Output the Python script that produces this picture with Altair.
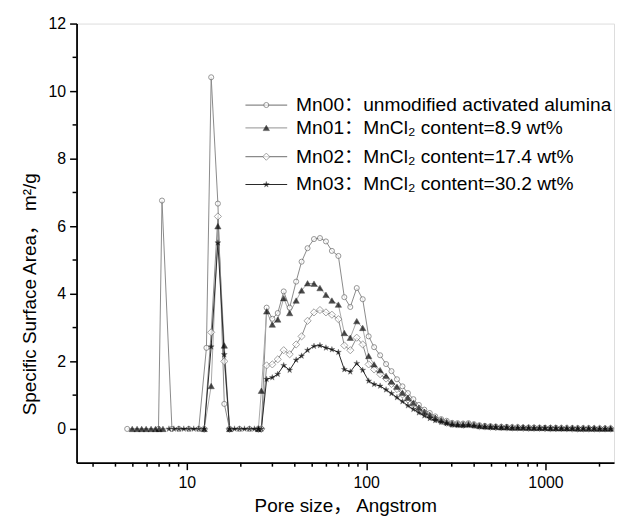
import altair as alt
import pandas as pd

names = ["Mn00", "Mn01", "Mn02", "Mn03"]
labels = [
    "Mn00：unmodified activated alumina",
    "Mn01：MnCl₂ content=8.9 wt%",
    "Mn02：MnCl₂ content=17.4 wt%",
    "Mn03：MnCl₂ content=30.2 wt%",
]

# left (micropore) region, per series
mn00_left_x = [4.65, 6.95, 7.27, 8.26, 9.03, 10.26, 11.65, 12.86, 13.67, 14.90, 16.18, 17.31, 19.66, 22.34, 25.06]
mn00_left_y = [0, 0, 6.76, 0, 0, 0, 0, 2.40, 10.41, 6.67, 0.74, 0, 0, 0, 0]

mn01_left_x = [4.96, 5.28, 5.60, 5.93, 6.32, 6.69, 7.00, 7.36, 12.50, 13.67, 14.90, 16.18, 17.31, 25.06]
mn01_left_y = [0, 0, 0, 0, 0, 0, 0, 0, 0, 1.27, 6.00, 2.47, 0, 0]

mn02_left_x = [12.50, 13.67, 14.90, 16.18, 17.31, 25.06]
mn02_left_y = [0, 2.86, 6.29, 2.00, 0, 0]

mn03_left_x = [7.95, 8.47, 9.03, 9.62, 10.26, 10.93, 11.65, 12.50, 13.67, 14.90, 16.18,
               17.31, 18.45, 19.66, 20.96, 22.34, 23.81, 25.06]
mn03_left_y = [0, 0, 0, 0, 0, 0, 0, 0, 2.43, 5.51, 2.20, 0, 0, 0, 0, 0, 0, 0]

# mesopore region, shared pore sizes
hump_x = [26.03, 27.86, 29.96, 32.14, 34.69, 37.44, 40.69, 43.64, 47.11, 51.18,
          55.25, 59.66, 64.41, 69.97, 75.54, 81.55, 88.60, 95.64, 103.25, 110.73,
          119.6, 129.1, 138.4, 148.5, 159.3, 170.9, 183.3, 196.7, 211.0, 226.3,
          242.7, 262.0, 281.1, 301.5, 323.5, 347, 372, 399, 428, 459,
          493, 528, 567, 608, 652, 700, 750, 805, 863, 926,
          993, 1065, 1143, 1226, 1315, 1411, 1513, 1623, 1741, 1868,
          2004, 2150, 2306]
mn00_hump = [0, 3.59, 3.26, 3.43, 4.07, 3.59, 4.36, 4.95, 5.35, 5.62,
             5.65, 5.55, 5.27, 5.12, 3.90, 3.61, 4.17, 3.84, 2.74, 2.42,
             2.18, 1.92, 1.71, 1.47, 1.26, 1.06, 0.88, 0.71, 0.57, 0.47,
             0.37, 0.29, 0.24, 0.18, 0.17, 0.16, 0.17, 0.14, 0.11, 0.09,
             0.08, 0.07, 0.06, 0.06, 0.05, 0.05, 0.04, 0.04, 0.04, 0.03,
             0.03, 0.03, 0.03, 0.02, 0.02, 0.02, 0.02, 0.02, 0.02, 0.01,
             0.01, 0.01, 0.01]
mn01_hump = [1.13, 3.48, 3.09, 3.24, 3.87, 3.43, 3.80, 4.10, 4.31, 4.30,
             4.17, 3.97, 3.80, 3.68, 2.84, 2.70, 3.19, 2.99, 2.16, 1.91,
             1.74, 1.57, 1.40, 1.25, 1.07, 0.92, 0.77, 0.63, 0.51, 0.41,
             0.33, 0.26, 0.20, 0.16, 0.14, 0.13, 0.14, 0.12, 0.09, 0.08,
             0.07, 0.06, 0.05, 0.05, 0.04, 0.04, 0.04, 0.03, 0.03, 0.03,
             0.03, 0.02, 0.02, 0.02, 0.02, 0.02, 0.01, 0.01, 0.01, 0.01,
             0.01, 0.01, 0.01]
mn02_hump = [0, 1.88, 1.91, 2.06, 2.33, 2.21, 2.50, 2.74, 3.20, 3.45,
             3.52, 3.45, 3.38, 3.25, 2.47, 2.33, 2.70, 2.50, 1.91, 1.76,
             1.62, 1.49, 1.33, 1.18, 1.02, 0.87, 0.73, 0.60, 0.48, 0.38,
             0.30, 0.23, 0.18, 0.14, 0.13, 0.12, 0.13, 0.11, 0.08, 0.07,
             0.06, 0.05, 0.05, 0.04, 0.04, 0.04, 0.03, 0.03, 0.03, 0.03,
             0.02, 0.02, 0.02, 0.02, 0.02, 0.01, 0.01, 0.01, 0.01, 0.01,
             0.01, 0.01, 0.01]
mn03_hump = [0, 1.47, 1.52, 1.62, 1.88, 1.74, 2.04, 2.16, 2.33, 2.45,
             2.47, 2.40, 2.35, 2.27, 1.76, 1.69, 1.94, 1.74, 1.42, 1.32,
             1.27, 1.16, 1.05, 0.93, 0.81, 0.69, 0.58, 0.48, 0.39, 0.31,
             0.25, 0.20, 0.16, 0.12, 0.11, 0.10, 0.11, 0.09, 0.07, 0.06,
             0.05, 0.05, 0.04, 0.04, 0.03, 0.03, 0.03, 0.03, 0.02, 0.02,
             0.02, 0.02, 0.02, 0.01, 0.01, 0.01, 0.01, 0.01, 0.01, 0.01,
             0.0, 0.0, 0.0]

x_major = [10, 100, 1000]
x_minor = [3, 4, 5, 6, 7, 8, 9, 20, 30, 40, 50, 60, 70, 80, 90,
           200, 300, 400, 500, 600, 700, 800, 900, 2000]
y_major = [0, 2, 4, 6, 8, 10, 12]
y_minor = [1, 3, 5, 7, 9, 11]

series_x = {
    "Mn00": mn00_left_x + hump_x,
    "Mn01": mn01_left_x + hump_x,
    "Mn02": mn02_left_x + hump_x,
    "Mn03": mn03_left_x + hump_x,
}
series_y = {
    "Mn00": mn00_left_y + mn00_hump,
    "Mn01": mn01_left_y + mn01_hump,
    "Mn02": mn02_left_y + mn02_hump,
    "Mn03": mn03_left_y + mn03_hump,
}

FONT = "Liberation Sans, 'Noto Sans CJK SC', sans-serif"
W, H = 541, 442

x_scale = alt.Scale(type="log", domain=[2.427, 2410], nice=False)
y_scale = alt.Scale(domain=[-1, 12], nice=False, zero=False)

x_enc = alt.X("pore:Q", scale=x_scale,
              axis=alt.Axis(values=x_major, format="d", tickSize=7, tickWidth=1.5,
                            domainWidth=1.8, domainColor="black", tickColor="black",
                            labelColor="black", labelFont=FONT, labelFontSize=16,
                            labelPadding=5, grid=False,
                            title="Pore size， Angstrom", titleFont=FONT,
                            titleFontSize=19, titleFontWeight="normal",
                            titleColor="black", titleBaseline="middle",
                            titleAnchor="middle", titleY=43))
y_enc = alt.Y("val:Q", scale=y_scale,
              axis=alt.Axis(values=y_major, tickSize=7, tickWidth=1.5,
                            domainWidth=1.8, domainColor="black", tickColor="black",
                            labelColor="black", labelFont=FONT, labelFontSize=16,
                            labelPadding=4, grid=False,
                            title="Specific Surface Area， m²/g", titleFont=FONT,
                            titleFontSize=19, titleFontWeight="normal",
                            titleColor="black", titleAngle=270, titleAlign="center",
                            titleBaseline="middle", titleX=-47, titleY=272))

line_colors = {"Mn00": "#8a8a8a", "Mn01": "#a8a8a8", "Mn02": "#8a8a8a", "Mn03": "#2a2a2a"}
STAR = ("M0,-1L0.2245,-0.309L0.951,-0.309L0.3633,0.118L0.5878,0.809L0,0.382"
        "L-0.5878,0.809L-0.3633,0.118L-0.951,-0.309L-0.2245,-0.309Z")
marker_props = {
    "Mn00": dict(shape="circle", size=26, filled=True, fill="white", stroke="#6a6a6a", strokeWidth=1),
    "Mn01": dict(shape="triangle-up", size=40, filled=True, fill="black", stroke="black", strokeWidth=0.5),
    "Mn02": dict(shape="diamond", size=52, filled=True, fill="white", stroke="#7a7a7a", strokeWidth=1),
    "Mn03": dict(shape=STAR, size=40, filled=True, fill="black", stroke="black", strokeWidth=0.3),
}

layers = []
dfs = {n: pd.DataFrame({"pore": series_x[n], "val": series_y[n]}) for n in names}
for n in names:
    layers.append(alt.Chart(dfs[n]).mark_line(color=line_colors[n], strokeWidth=1)
                  .encode(x=x_enc, y=y_enc))
for n in ["Mn00", "Mn02", "Mn01", "Mn03"]:
    layers.append(alt.Chart(dfs[n]).mark_point(**marker_props[n]).encode(x=x_enc, y=y_enc))

# minor ticks
layers.append(alt.Chart(pd.DataFrame({"pore": x_minor})).mark_rule(color="black", strokeWidth=1.5)
              .encode(x=x_enc, y=alt.value(H), y2=alt.value(H + 4)))
layers.append(alt.Chart(pd.DataFrame({"val": y_minor})).mark_rule(color="black", strokeWidth=1.5)
              .encode(y=y_enc, x=alt.value(0), x2=alt.value(-4)))

# legend
leg_y = [82, 105, 134, 162]
for i, n in enumerate(names):
    yy = leg_y[i]
    one = pd.DataFrame({"label": [labels[i]]})
    layers.append(alt.Chart(one).mark_rule(color=line_colors[n], strokeWidth=1.2)
                  .encode(x=alt.value(170), x2=alt.value(212), y=alt.value(yy)))
    layers.append(alt.Chart(one).mark_point(**marker_props[n])
                  .encode(x=alt.value(191), y=alt.value(yy)))
    layers.append(alt.Chart(one).mark_text(align="left", baseline="middle", font=FONT,
                                           fontSize=19.3, color="black")
                  .encode(text="label:N", x=alt.value(221), y=alt.value(yy)))

chart = alt.layer(*layers).properties(
    width=W, height=H,
    autosize=alt.AutoSizeParams(type="none"),
    padding={"left": 69, "top": 14, "right": 4, "bottom": 52},
).configure_view(stroke=None).configure(background="white")

chart.save("out.html", embed_options={"renderer": "svg", "actions": False})
